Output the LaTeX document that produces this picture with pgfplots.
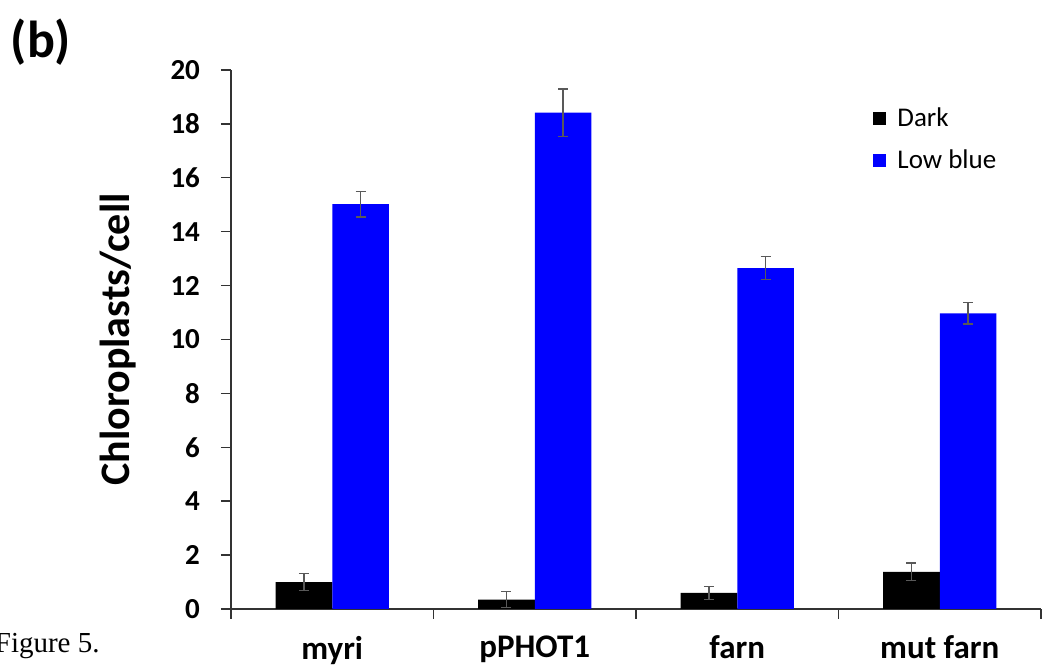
\documentclass[border=0pt]{standalone}
\usepackage{pgfplots}
\pgfplotsset{compat=1.18}
\usepackage{fontspec}
\setmainfont{Carlito}
\newfontfamily\capfont{Liberation Serif}

\definecolor{lowblue}{HTML}{0000FF}
\definecolor{errgray}{HTML}{595959}

% chloroplast counts per cell: category index, mean, error
\pgfplotstableread{
x  y     e
0  1.00  0.31
1  0.35  0.30
2  0.60  0.24
3  1.38  0.32
}\darkdata
\pgfplotstableread{
x  y      e
0  15.02  0.48
1  18.42  0.88
2  12.65  0.43
3  10.97  0.40
}\bluedata

\begin{document}
\begin{tikzpicture}
\begin{axis}[
  scale only axis,
  width=405pt, height=269.5pt,
  xmin=-0.5, xmax=3.5,
  ymin=0, ymax=20,
  axis x line=bottom, axis y line=left,
  axis line style={-, black!80, line width=0.7pt},
  % category boundaries carry the tick marks, names sit at the centres
  xtick={-0.5,0.5,1.5,2.5,3.5},
  xticklabels={},
  extra x ticks={0,1,2,3},
  extra x tick labels={myri,pPHOT1,farn,mut farn},
  extra x tick style={major tick length=0pt},
  ytick={0,2,...,20},
  major tick length=5pt,
  tick align=outside,
  tick style={black!80, line width=0.7pt},
  xticklabel style={font=\fontsize{16.5}{18}\selectfont\bfseries, yshift=-10pt},
  /pgf/number format/assume math mode=true,
  yticklabel style={font=\bfseries\fontsize{14.5}{16}\selectfont, xshift=-7pt},
  ylabel={Chloroplasts/cell},
  every axis y label/.style={
    at={([xshift=-56.5pt]axis description cs:0,0.5)},
    rotate=90, anchor=center,
    font=\fontsize{21}{24}\selectfont\bfseries},
  ybar=0pt,
  bar width=0.28,
  legend style={
    at={(rel axis cs:0.7926,0.931)}, anchor=north west,
    draw=none, fill=none, inner sep=0pt,
    font=\fontsize{13.5}{16}\selectfont,
    row sep=10pt,
    nodes={inner sep=0pt},
  },
  legend cell align=left,
  legend image code/.code={
    \fill[#1,draw=none] (0pt,-3.5pt) rectangle (6.5pt,3pt);
    \path (12pt,0pt);},
  clip=false,
]
\addplot[fill=black, draw=none, bar shift=-0.14,
  error bars/.cd, y dir=both, y explicit,
  error bar style={errgray, line width=0.75pt},
  error mark options={rotate=90, mark size=2.5pt, errgray, line width=0.75pt}]
  table[x=x, y=y, y error=e] {\darkdata};
\addlegendentry{Dark}
\addplot[fill=lowblue, draw=none, bar shift=0.14,
  error bars/.cd, y dir=both, y explicit,
  error bar style={errgray, line width=0.75pt},
  error mark options={rotate=90, mark size=2.5pt, errgray, line width=0.75pt}]
  table[x=x, y=y, y error=e] {\bluedata};
\addlegendentry{Low blue}

\node[font=\fontsize{26}{30}\selectfont\bfseries] at (rel axis cs:-0.2346,1.052) {(b)};
\node[font=\capfont\fontsize{14.5}{17}\selectfont, anchor=base east, inner sep=0pt]
  at ([xshift=-65.5pt, yshift=-22pt]rel axis cs:0,0) {Figure 5.};
\end{axis}
\pgfresetboundingbox
\path[use as bounding box] (-115.5pt,-29pt) rectangle (405.5pt,304.5pt);
\end{tikzpicture}
\end{document}
